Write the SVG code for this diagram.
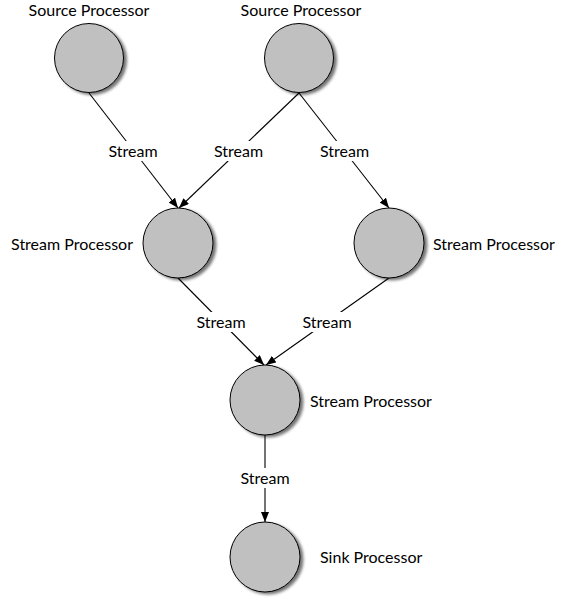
<svg xmlns="http://www.w3.org/2000/svg" width="566" height="599" viewBox="0 0 566 599">
<style>
.node{fill:#c0c0c0;stroke:#000;stroke-width:1;filter:url(#sh)}
.lbl{font-family:Lato,"Open Sans",sans-serif;font-size:16px;fill:#000}
.edge{stroke:#000;stroke-width:1.1;fill:none;marker-end:url(#arr)}
.bg{fill:#fff}
</style>
<defs>
<filter id="sh" x="-30%" y="-30%" width="170%" height="170%">
<feGaussianBlur in="SourceAlpha" stdDeviation="1.5"/>
<feOffset dx="3" dy="2" result="b"/>
<feComponentTransfer><feFuncA type="linear" slope="0.55"/></feComponentTransfer>
<feMerge><feMergeNode/><feMergeNode in="SourceGraphic"/></feMerge>
</filter>
<marker id="arr" markerWidth="10" markerHeight="8" refX="10" refY="4" orient="auto" markerUnits="userSpaceOnUse">
<path d="M0,0 L10,4 L0,8 Z" fill="#000"/>
</marker>
</defs>
<g id="connectors">
<line class="edge" x1="89" y1="93" x2="178" y2="208"/>
<line class="edge" x1="299" y1="93" x2="179" y2="208"/>
<line class="edge" x1="299" y1="93" x2="389" y2="208"/>
<line class="edge" x1="178" y1="278" x2="264" y2="365"/>
<line class="edge" x1="389" y1="278" x2="266" y2="365"/>
<line class="edge" x1="265" y1="435" x2="265" y2="522"/>
<g id="edge-labels">
<rect class="bg" x="106" y="141" width="54" height="20"/>
<text class="lbl" x="133" y="157" text-anchor="middle">Stream</text>
<rect class="bg" x="211" y="141" width="55" height="20"/>
<text class="lbl" x="238.5" y="157" text-anchor="middle">Stream</text>
<rect class="bg" x="317" y="141" width="55" height="20"/>
<text class="lbl" x="344.5" y="157" text-anchor="middle">Stream</text>
<rect class="bg" x="194" y="312" width="54" height="20"/>
<text class="lbl" x="221" y="328" text-anchor="middle">Stream</text>
<rect class="bg" x="300" y="312" width="54" height="20"/>
<text class="lbl" x="327" y="328" text-anchor="middle">Stream</text>
<rect class="bg" x="238" y="468" width="54" height="20"/>
<text class="lbl" x="265" y="484" text-anchor="middle">Stream</text>
</g>
</g>
<g id="source1">
<circle class="node" cx="89" cy="58" r="34.5"/>
<text class="lbl" x="89" y="16" text-anchor="middle">Source Processor</text>
</g>
<g id="source2">
<circle class="node" cx="299" cy="58" r="34.5"/>
<text class="lbl" x="301" y="16" text-anchor="middle">Source Processor</text>
</g>
<g id="stream-left">
<circle class="node" cx="178" cy="243" r="35"/>
<text class="lbl" x="133" y="250" text-anchor="end">Stream Processor</text>
</g>
<g id="stream-right">
<circle class="node" cx="389" cy="243" r="35"/>
<text class="lbl" x="433" y="250">Stream Processor</text>
</g>
<g id="stream-middle">
<circle class="node" cx="265" cy="400" r="35"/>
<text class="lbl" x="310" y="407">Stream Processor</text>
</g>
<g id="sink">
<circle class="node" cx="265" cy="557" r="35"/>
<text class="lbl" x="320" y="563">Sink Processor</text>
</g>
</svg>
